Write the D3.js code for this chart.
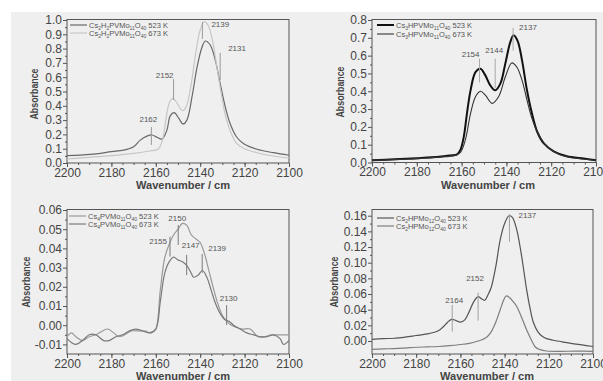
<!DOCTYPE html>
<html><head><meta charset="utf-8">
<script src="https://cdn.jsdelivr.net/npm/d3@7"></script>
<style>
body{margin:0;background:#fff}
svg{display:block}
text{font-family:"Liberation Sans",Arial,Helvetica,sans-serif}
</style>
</head><body>
<svg id="c" width="603" height="381"></svg>
<script>
// ---------------- DATA ----------------
const xTicks = [2200, 2180, 2160, 2140, 2120, 2100];
const yTicksA = [0, 0.1, 0.2, 0.3, 0.4, 0.5, 0.6, 0.7, 0.8, 0.9, 1.0];
const yTicksB = [0, 0.1, 0.2, 0.3, 0.4, 0.5, 0.6, 0.7, 0.8];
const yTicksC = [-0.01, 0, 0.01, 0.02, 0.03, 0.04, 0.05, 0.06];
const yTicksD = [0, 0.02, 0.04, 0.06, 0.08, 0.10, 0.12, 0.14, 0.16];

// Panel A: Cs2H2PVMo11O40
const a523 = [[2200,0.051],[2189.5,0.06],[2180,0.079],[2174.5,0.09],[2170,0.114],[2167,0.16],[2164,0.188],[2161.7,0.196],[2159.5,0.18],[2157.2,0.167],[2155,0.23],[2153.5,0.33],[2151.7,0.352],[2149.7,0.313],[2147.7,0.273],[2146,0.30],[2143.7,0.462],[2141.4,0.672],[2139.2,0.81],[2137.7,0.853],[2135.5,0.825],[2133.2,0.72],[2131,0.555],[2128.7,0.392],[2126.5,0.275],[2123.5,0.18],[2120.4,0.135],[2114.4,0.096],[2106.9,0.072],[2100,0.054]];
const a673 = [[2200,0.028],[2180,0.051],[2170,0.067],[2163,0.084],[2159,0.096],[2157,0.16],[2155.5,0.30],[2154,0.417],[2152.5,0.452],[2151,0.433],[2149,0.382],[2147.7,0.366],[2146,0.406],[2144,0.557],[2142,0.77],[2140,0.93],[2138.2,0.988],[2136.5,0.965],[2134.5,0.86],[2132.5,0.672],[2130.5,0.485],[2128.5,0.322],[2126,0.205],[2123.5,0.135],[2120,0.10],[2114,0.07],[2107,0.049],[2100,0.035]];
// Panel B: Cs3HPVMo11O40
const b523 = [[2200,0.013],[2190,0.018],[2180,0.024],[2170,0.032],[2165,0.04],[2162,0.046],[2160.5,0.072],[2159,0.146],[2157.6,0.276],[2156,0.405],[2153.8,0.507],[2151.6,0.526],[2149.4,0.489],[2147.2,0.433],[2145,0.405],[2142.7,0.443],[2140.5,0.554],[2138.3,0.674],[2136.8,0.715],[2135,0.683],[2133,0.572],[2130.8,0.405],[2128.6,0.276],[2126.3,0.174],[2123.4,0.109],[2118.9,0.063],[2113,0.035],[2105.5,0.022],[2100,0.013]];
const b673 = [[2200,0.012],[2180,0.022],[2170,0.03],[2163,0.04],[2160.5,0.057],[2158.3,0.128],[2156,0.276],[2153.8,0.369],[2151.6,0.40],[2149.4,0.378],[2146.4,0.332],[2143.5,0.369],[2140.5,0.48],[2137.6,0.559],[2135.3,0.535],[2133,0.461],[2130.8,0.35],[2128.6,0.248],[2125.6,0.156],[2121.9,0.091],[2116,0.044],[2108,0.022],[2100,0.013]];
// Panel C: Cs4PVMo11O40
const c523 = [[2200,-0.006],[2198,-0.004],[2196,-0.006],[2193,-0.008],[2190,-0.006],[2187,-0.005],[2184,-0.003],[2181.5,-0.002],[2179,-0.004],[2176.5,-0.006],[2174,-0.005],[2171,-0.003],[2168,-0.003],[2165,-0.003],[2162,-0.004],[2160,-0.002],[2158,0.018],[2156,0.035],[2154,0.042],[2152,0.047],[2150,0.050],[2148,0.053],[2146,0.052],[2144,0.047],[2142,0.045],[2140,0.043],[2138,0.037],[2136,0.028],[2134,0.019],[2132,0.011],[2130,0.005],[2128,0.002],[2126,0.0],[2124,-0.001],[2121,-0.002],[2117.5,-0.002],[2114,-0.006],[2111,-0.006],[2108,-0.005],[2105,-0.005],[2102.5,-0.005],[2100,-0.005]];
const c673 = [[2200,-0.007],[2198,-0.009],[2196,-0.010],[2193,-0.008],[2190,-0.005],[2187,-0.005],[2183.5,-0.008],[2181,-0.008],[2178,-0.006],[2175,-0.005],[2172,-0.003],[2169,-0.002],[2166,-0.003],[2163,-0.004],[2160,-0.002],[2158,0.012],[2156,0.027],[2154,0.033],[2152,0.0355],[2150,0.034],[2148,0.033],[2146,0.031],[2144,0.027],[2143,0.025],[2141,0.026],[2139,0.0285],[2137,0.025],[2135,0.018],[2133,0.011],[2131,0.006],[2129,0.003],[2127,0.002],[2125,0.0],[2122,-0.002],[2119,-0.004],[2116,-0.005],[2113,-0.006],[2110,-0.006],[2107,-0.005],[2104,-0.007],[2102.5,-0.010],[2100,-0.008]];
// Panel D: Cs2HPMo12O40
const d523 = [[2200,0.002],[2195,0.003],[2190,0.0035],[2185,0.005],[2180,0.007],[2175,0.009],[2170,0.013],[2168,0.0175],[2166,0.0234],[2164,0.0277],[2162,0.026],[2160,0.024],[2158,0.027],[2156,0.0375],[2154,0.05],[2152,0.0566],[2150.5,0.054],[2149,0.052],[2147.5,0.059],[2146,0.069],[2144,0.095],[2142,0.129],[2140,0.150],[2138,0.160],[2136.5,0.158],[2134.5,0.142],[2132.5,0.112],[2130,0.065],[2128.5,0.042],[2127,0.024],[2125,0.012],[2123,0.006],[2121,0.003],[2118,0.001],[2114,-0.001],[2110,-0.003],[2105,-0.005],[2100,-0.007]];
const d673 = [[2200,-0.0106],[2195,-0.010],[2190,-0.0098],[2185,-0.009],[2180,-0.008],[2175,-0.0075],[2170,-0.007],[2165,-0.006],[2160,-0.0045],[2156,-0.003],[2152,0.0],[2150,0.002],[2148,0.005],[2146,0.012],[2144,0.024],[2142,0.040],[2140.3,0.053],[2139.3,0.0575],[2138,0.056],[2136,0.050],[2134.5,0.044],[2132,0.028],[2130,0.014],[2128,0.002],[2126,-0.008],[2124,-0.011],[2121,-0.0128],[2115,-0.0132],[2108,-0.013],[2100,-0.0132]];

const legendA = [[["Cs",0],["2",1],["H",0],["2",1],["PVMo",0],["11",1],["O",0],["40",1],[" 523 K",0]],
                 [["Cs",0],["2",1],["H",0],["2",1],["PVMo",0],["11",1],["O",0],["40",1],[" 673 K",0]]];
const legendB = [[["Cs",0],["3",1],["HPVMo",0],["11",1],["O",0],["40",1],[" 523 K",0]],
                 [["Cs",0],["3",1],["HPVMo",0],["11",1],["O",0],["40",1],[" 673 K",0]]];
const legendC = [[["Cs",0],["4",1],["PVMo",0],["11",1],["O",0],["40",1],[" 523 K",0]],
                 [["Cs",0],["4",1],["PVMo",0],["11",1],["O",0],["40",1],[" 673 K",0]]];
const legendD = [[["Cs",0],["2",1],["HPMo",0],["12",1],["O",0],["40",1],[" 523 K",0]],
                 [["Cs",0],["2",1],["HPMo",0],["12",1],["O",0],["40",1],[" 673 K",0]]];

// annotations: label, wavenumber of marker, top value, bottom value
const annA = [["2162",2162,0.252,0.126],["2152",2152,0.587,0.44],["2139",2139,0.986,0.867],["2131",2131,0.77,0.58]];
const annB = [["2154",2152,0.583,0.45],["2144",2145,0.583,0.417],["2137",2137,0.756,0.628]];
const annC = [["2155",2153.6,0.0461,0.0357],["2150",2149.9,0.0522,0.0418],["2147",2146.1,0.0366,0.0261],["2139",2139.1,0.0371,0.0273],["2130",2128.1,0.0105,0.0001]];
const annD = [["2164",2163.7,0.046,0.0119],["2152",2152,0.0617,0.026],["2137",2137.8,0.1618,0.1268]];

// ---------------- LAYOUT ----------------
const panels = [
  {xr:[67,289], yd:[0,1.0], yr:[163,20], frameTop:19.5, ticks:yTicksA, fmt:1, series:[a523,a673],
   colors:["#686868","#c6c6c6"], widths:[1.2,1.2], legend:legendA, legX:70, legY:25, legDy:8,
   ann:annA, annColor:"#9a9a9a", annPos:[["middle",-3,-5],["end",0,-1],["start",9,5],["start",8,-2]],
   yTitle:[38,94], xTitle:[183,189]},
  {xr:[372,596], yd:[0,0.8], yr:[162.5,20], frameTop:19.5, ticks:yTicksB, fmt:1, series:[b523,b673],
   colors:["#111111","#333333"], widths:[2,1.1], legend:legendB, legX:377, legY:25, legDy:9,
   ann:annB, annColor:"#a8a8a8", annPos:[["end",0,-2],["middle",-1,-6],["start",6,2]],
   yTitle:[344,92], xTitle:[488,189]},
  {xr:[67,289], yd:[-0.015,0.06], yr:[354,210], frameTop:209.5, ticks:yTicksC, fmt:2, series:[c523,c673],
   colors:["#9a9a9a","#7a7a7a"], widths:[1.2,1.2], legend:legendC, legX:69, legY:216, legDy:8,
   ann:annC, annColor:"#7a7a7a", annPos:[["end",-3,7],["middle",-1,-4],["middle",4,-7],["start",6,-3],["middle",2,-4]],
   yTitle:[30,282], xTitle:[183,380]},
  {xr:[372,593], yd:[-0.0166,0.1673], yr:[354,210], frameTop:209.5, ticks:yTicksD, fmt:2, series:[d523,d673],
   colors:["#555555","#7e7e7e"], widths:[1.2,1.2], legend:legendD, legX:377, legY:218, legDy:8,
   ann:annD, annColor:"#a0a0a0", annPos:[["middle",2,-2],["middle",-3,-12],["start",9,4]],
   yTitle:[338,282], xTitle:[487,380]}
];

const svg = d3.select("#c");
svg.append("rect").attr("x",11).attr("y",12).attr("width",603-11).attr("height",381-12).attr("fill","#efefef");

panels.forEach(p => {
  const x = d3.scaleLinear().domain([2200,2100]).range(p.xr);
  const y = d3.scaleLinear().domain(p.yd).range(p.yr);
  const g = svg.append("g");
  const bottom = p.yr[0];

  const fmt = v => {
    const s = Math.abs(v).toFixed(p.fmt);
    return (v < -1e-9 ? "-" : "") + s;
  };

  // minor ticks
  const minorX = d3.range(2100, 2201, 5);
  g.append("g").attr("transform",`translate(0,${bottom})`)
    .call(d3.axisBottom(x).tickValues(minorX).tickSize(2).tickFormat(""))
    .call(s=>{s.select(".domain").remove(); s.selectAll("line").attr("stroke","#555");});
  const step = p.ticks[1]-p.ticks[0];
  const minorY = [];
  for (let i=0;i<p.ticks.length-1;i++) minorY.push(p.ticks[i]+step/2);
  g.append("g").attr("transform",`translate(${p.xr[0]},0)`)
    .call(d3.axisLeft(y).tickValues(minorY).tickSize(2).tickFormat(""))
    .call(s=>{s.select(".domain").remove(); s.selectAll("line").attr("stroke","#555");});

  // major axes
  g.append("g").attr("transform",`translate(0,${bottom})`)
    .call(d3.axisBottom(x).tickValues(xTicks).tickSize(4).tickPadding(1).tickFormat(d3.format("d")))
    .call(s=>{s.select(".domain").remove(); s.selectAll("line").attr("stroke","#555");
      s.selectAll("text").attr("font-size",12).attr("fill","#444").attr("font-family","Liberation Sans, Arial, sans-serif");});
  g.append("g").attr("transform",`translate(${p.xr[0]},0)`)
    .call(d3.axisLeft(y).tickValues(p.ticks).tickSize(4).tickPadding(1).tickFormat(fmt))
    .call(s=>{s.select(".domain").remove(); s.selectAll("line").attr("stroke","#555");
      s.selectAll("text").attr("font-size",12).attr("fill","#444").attr("font-family","Liberation Sans, Arial, sans-serif");});

  // frame
  g.append("rect").attr("x",p.xr[0]).attr("y",p.frameTop)
    .attr("width",p.xr[1]-p.xr[0]).attr("height",bottom-p.frameTop)
    .attr("fill","none").attr("stroke","#555").attr("stroke-width",1);

  // curves
  const line = d3.line().x(d=>x(d[0])).y(d=>y(d[1])).curve(d3.curveCatmullRom.alpha(0.5));
  p.series.forEach((s,i) => {
    g.append("path").datum(s).attr("d",line).attr("fill","none")
      .attr("stroke",p.colors[i]).attr("stroke-width",p.widths[i]).attr("stroke-linejoin","round");
  });

  // annotations
  p.ann.forEach((a,i) => {
    const xx = x(a[1]);
    g.append("line").attr("x1",xx).attr("x2",xx).attr("y1",y(a[2])).attr("y2",y(a[3]))
      .attr("stroke",p.annColor).attr("stroke-width",1);
    const pos = p.annPos[i];
    g.append("text").attr("x",xx+pos[1]).attr("y",y(a[2])+pos[2]).attr("text-anchor",pos[0])
      .attr("font-size",8).attr("fill","#555").text(a[0]);
  });

  // legend
  p.legend.forEach((segs,i) => {
    const ly = p.legY + i*p.legDy;
    g.append("line").attr("x1",p.legX).attr("x2",p.legX+17).attr("y1",ly).attr("y2",ly)
      .attr("stroke",p.colors[i]).attr("stroke-width",p.widths[i]);
    const t = g.append("text").attr("x",p.legX+19).attr("y",ly+3).attr("font-size",7.5).attr("fill","#555");
    let shifted = false;
    segs.forEach(sg => {
      const ts = t.append("tspan").text(sg[0]);
      if (sg[1] && !shifted) { ts.attr("dy",2).attr("font-size",5); shifted = true; }
      else if (sg[1]) { ts.attr("font-size",5); }
      else if (shifted) { ts.attr("dy",-2); shifted = false; }
    });
  });

  // axis titles
  g.append("text").attr("transform",`translate(${p.yTitle[0]},${p.yTitle[1]}) rotate(-90)`)
    .attr("text-anchor","middle").attr("font-size",11).attr("font-weight","bold").attr("fill","#444")
    .attr("textLength",51).attr("lengthAdjust","spacingAndGlyphs").text("Absorbance");
  g.append("text").attr("x",p.xTitle[0]).attr("y",p.xTitle[1]).attr("text-anchor","middle")
    .attr("font-size",11).attr("font-weight","bold").attr("fill","#444")
    .attr("textLength",94).attr("lengthAdjust","spacingAndGlyphs").text("Wavenumber / cm");
});
</script>
</body></html>
